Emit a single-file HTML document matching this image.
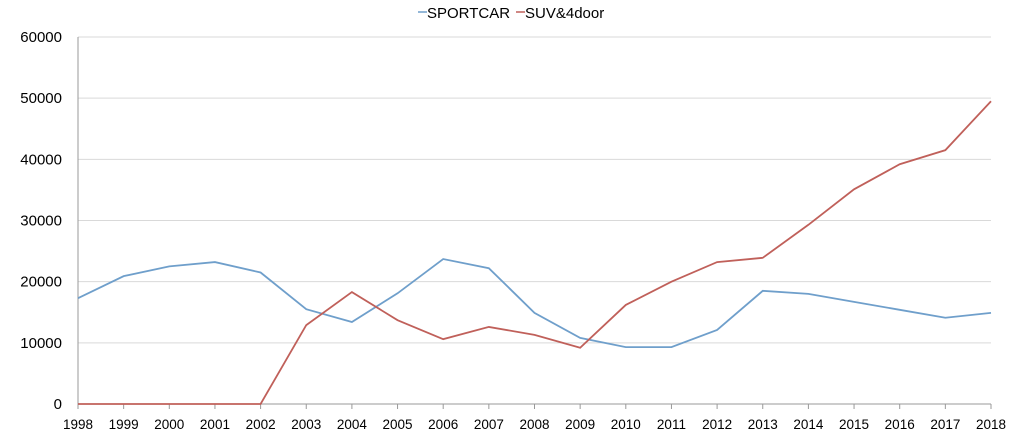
<!DOCTYPE html>
<html><head><meta charset="utf-8"><style>
body{margin:0;background:#fff;}
svg{display:block;font-family:"Liberation Sans",sans-serif;}
</style></head><body>
<svg id="chart" width="1023" height="445"></svg>
<script>
const years=[1998,1999,2000,2001,2002,2003,2004,2005,2006,2007,2008,2009,2010,2011,2012,2013,2014,2015,2016,2017,2018];
const sportcar=[17300,20900,22500,23200,21500,15500,13400,18100,23700,22200,14900,10800,9300,9300,12100,18500,18000,16700,15400,14100,14900];
const suv=[0,0,0,0,0,12900,18300,13700,10600,12600,11300,9200,16200,20000,23200,23900,29300,35100,39200,41500,49500];
const yTicks=[0,10000,20000,30000,40000,50000,60000];
const NS='http://www.w3.org/2000/svg';
const svg=document.getElementById('chart');
const x0=78,x1=991,y0=404,y1=37;
const xs=i=>x0+(x1-x0)*i/(years.length-1);
const ys=v=>y0-(y0-y1)*v/60000;
function mk(t,a,p){const e=document.createElementNS(NS,t);for(const k in a)e.setAttribute(k,a[k]);(p||svg).appendChild(e);return e;}
yTicks.forEach(v=>{
  const l=mk('line',{x1:x0,x2:x1,y1:ys(v),y2:ys(v),stroke:v===0?'#999':'#d9d9d9','stroke-width':1});
  
  
  const t=mk('text',{x:62,y:ys(v)+5,'text-anchor':'end','font-size':15,fill:'#000'});
  t.textContent=v;
  
  
});
const ax=mk('line',{x1:x0,x2:x0,y1:y1,y2:y0,stroke:'#999'});


years.forEach((yr,i)=>{
  const t=mk('text',{x:xs(i),y:429,'text-anchor':'middle','font-size':13.5,fill:'#000'});
  t.textContent=yr;
  
  
  const tk=mk('line',{x1:xs(i),x2:xs(i),y1:y0,y2:y0+5,stroke:'#999'});
  
  
});
function series(vals,color,name){
  const p=mk('polyline',{points:vals.map((v,i)=>xs(i)+','+ys(v)).join(' '),fill:'none',stroke:color,'stroke-width':1.8});
  
  
}
series(sportcar,'#6f9fcb','sportcar-line');
series(suv,'#c0605a','suv-line');
const lg=mk('g',{});


[[418,'#6f9fcb','SPORTCAR'],[516,'#c0605a','SUV&4door']].forEach(([x,c,n])=>{
  mk('line',{x1:x,x2:x+9,y1:12,y2:12,stroke:c,'stroke-width':1.5},lg);
  const t=mk('text',{x:x+9,y:18,'font-size':15,fill:'#000'},lg);
  t.textContent=n;
  
  
});
</script>
</body></html>
